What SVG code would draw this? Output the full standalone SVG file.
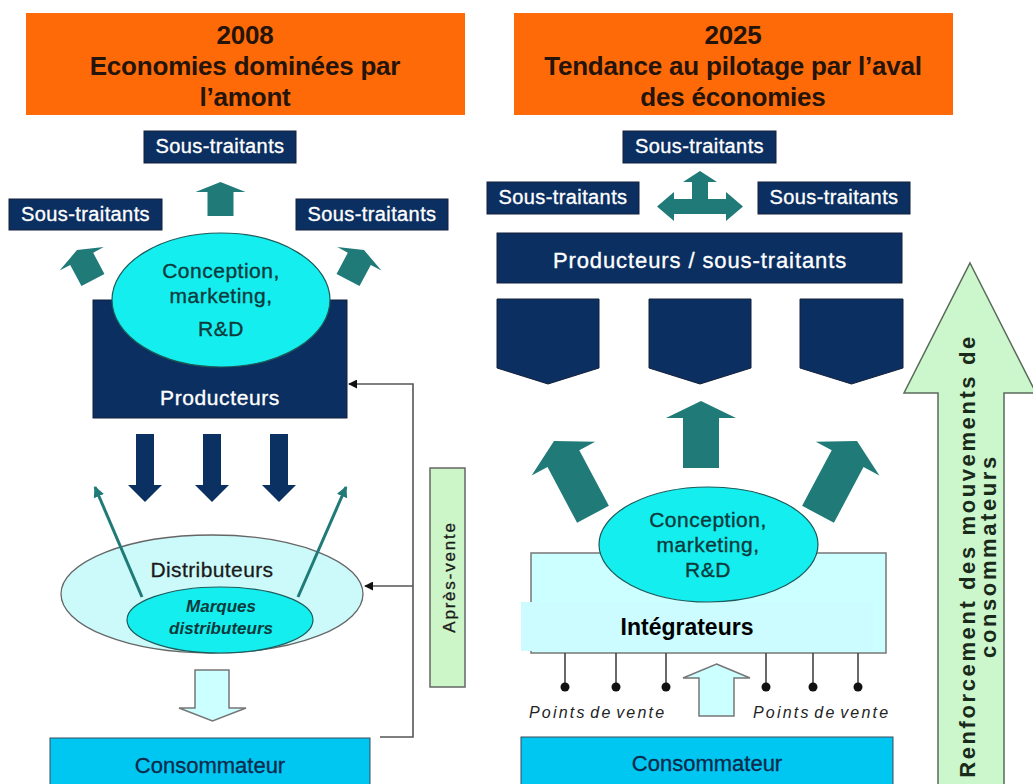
<svg xmlns="http://www.w3.org/2000/svg" width="1033" height="784" viewBox="0 0 1033 784">
<style>
text{font-family:"Liberation Sans",Arial,sans-serif}
.hdr{fill:#ff6a08}
.hdrt{font-size:26px;font-weight:bold;fill:#24140a;text-anchor:middle;letter-spacing:-0.2px}
.navy{fill:#0b2f60;stroke:#15203a;stroke-width:1}
.wt{fill:#ffffff;text-anchor:middle;stroke:#ffffff;stroke-width:0.35px}
.st{font-size:20px;letter-spacing:0.4px}
.teal{fill:#1f7a78}
.cyan{fill:#14eeee;stroke:#1d5a5a;stroke-width:1.2}
.ct{font-size:21px;fill:#0c3a3c;stroke:#0c3a3c;stroke-width:0.35px;text-anchor:middle;letter-spacing:0.5px}
.lc{fill:#ccffff;stroke:#777;stroke-width:1.5}
.cons{fill:#00c6f2;stroke:#3a4a5a;stroke-width:1}
.consT{font-size:22px;fill:#0c2a4c;stroke:#0c2a4c;stroke-width:0.3px;text-anchor:middle}
.fb{fill:none;stroke:#555;stroke-width:1.6}
.pv{stroke:#444;stroke-width:1.6}
.pvt{font-size:16px;font-style:italic;fill:#222;letter-spacing:2.2px;word-spacing:-3px}
.green{fill:#ccf6cc;stroke:#5a6a5a;stroke-width:1.5}
.gt{font-size:22px;font-weight:bold;fill:#1a2a1a;text-anchor:middle;letter-spacing:2.6px}
</style>
<defs>
<marker id="mk" viewBox="0 0 10 10" refX="9" refY="5" markerWidth="9" markerHeight="9" markerUnits="userSpaceOnUse" orient="auto"><path d="M0,0 L10,5 L0,10 Z" fill="#111"/></marker>
<marker id="mkt" viewBox="0 0 10 10" refX="9" refY="5" markerWidth="11" markerHeight="11" markerUnits="userSpaceOnUse" orient="auto"><path d="M0,0 L10,5 L0,10 Z" fill="#1f7a78"/></marker>
<path id="downA" d="M-9,0 H9 V51 H17 L0,68 L-17,51 H-9 Z"/>
<path id="upS" d="M0,0 L25,10 H13 V34 H-13 V10 H-25 Z"/>
<path id="upL" d="M0,0 L36,20 H18 V83 H-18 V20 H-36 Z"/>
</defs>

<!-- Left panel -->
<g id="header2008">
<rect class="hdr" x="26" y="13" width="439" height="102"/>
<text class="hdrt" x="245" y="44">2008</text>
<text class="hdrt" x="245" y="75">Economies dominées par</text>
<text class="hdrt" x="245" y="106">l’amont</text>
</g>
<g id="st-top-left">
<rect class="navy" x="144" y="131" width="152" height="32"/>
<text class="wt st" x="220" y="153">Sous-traitants</text>
</g>
<g id="st-left-left">
<rect class="navy" x="9" y="199" width="153" height="31"/>
<text class="wt st" x="85.5" y="221">Sous-traitants</text>
</g>
<g id="st-right-left">
<rect class="navy" x="296" y="199" width="152" height="31"/>
<text class="wt st" x="372" y="221">Sous-traitants</text>
</g>
<g id="producteurs">
<rect class="navy" x="93" y="300" width="254" height="118"/>
<text class="wt" x="220" y="405" font-size="21" letter-spacing="0.6">Producteurs</text>
</g>
<g id="conception-left">
<ellipse class="cyan" cx="221" cy="300" rx="109" ry="67"/>
<text class="ct" x="221" y="278">Conception,</text>
<text class="ct" x="221" y="303">marketing,</text>
<text class="ct" x="221" y="336">R&amp;D</text>
</g>
<g id="distributeurs">
<ellipse cx="212" cy="594" rx="151" ry="59" fill="#ccfafa" stroke="#666" stroke-width="1.3"/>
<text x="212" y="577" font-size="21" fill="#1a1a1a" stroke="#1a1a1a" stroke-width="0.3" text-anchor="middle" letter-spacing="0.4">Distributeurs</text>
</g>
<g id="connectors">
<g class="teal">
<use href="#upS" transform="translate(220.5,182)"/>
<use href="#upS" transform="translate(77,250) rotate(-28)"/>
<use href="#upS" transform="translate(364,250) rotate(28)"/>
</g>
<g fill="#0b3163">
<use href="#downA" transform="translate(145,434)"/>
<use href="#downA" transform="translate(212,434)"/>
<use href="#downA" transform="translate(279,434)"/>
</g>
<line x1="142" y1="597" x2="95" y2="487" stroke="#1f7a78" stroke-width="3" marker-end="url(#mkt)"/>
<line x1="298" y1="597" x2="346" y2="487" stroke="#1f7a78" stroke-width="3" marker-end="url(#mkt)"/>
<path class="lc" d="M195,670 H229 V708 H246 L212.5,721 L179,708 H195 Z"/>
<path class="fb" d="M380,737 H413 V384 H349" marker-end="url(#mk)"/>
<path class="fb" d="M413,586 H365" marker-end="url(#mk)"/>
<path class="teal" d="M700,171 L717,182 H708 V199 H726 V192 L743,206.5 L726,221 V214 H674 V221 L657,206.5 L674,192 V199 H692 V182 H683 Z"/>
<g class="teal">
<path d="M0,0 L35,17 H18 V67 H-18 V17 H-35 Z" transform="translate(701,401)"/>
<use href="#upL" transform="translate(554,441) rotate(-28)"/>
<use href="#upL" transform="translate(857,441) rotate(28)"/>
</g>
<path class="lc" d="M716.5,664 L750,678 H734 V716 H699 V678 H683 Z"/>
</g>
<g id="marques">
<ellipse class="cyan" cx="220" cy="620" rx="93" ry="33"/>
<text x="221" y="612" font-size="17" font-weight="bold" font-style="italic" fill="#0c3a3c" text-anchor="middle">Marques</text>
<text x="221" y="634" font-size="17" font-weight="bold" font-style="italic" fill="#0c3a3c" text-anchor="middle">distributeurs</text>
</g>
<g id="apres-vente">
<rect x="430" y="468" width="35" height="219" fill="#ccf5c8" stroke="#666" stroke-width="1.5"/>
<text transform="translate(455,577) rotate(-90)" font-size="17" fill="#1a1a1a" stroke="#1a1a1a" stroke-width="0.3" text-anchor="middle" letter-spacing="1.8">Après-vente</text>
</g>
<g id="consommateur-left">
<rect class="cons" x="50" y="738" width="320" height="52"/>
<text class="consT" x="210" y="773">Consommateur</text>
</g>

<!-- Right panel -->
<g id="header2025">
<rect class="hdr" x="514" y="13" width="439" height="102"/>
<text class="hdrt" x="733" y="44">2025</text>
<text class="hdrt" x="733" y="75">Tendance au pilotage par l’aval</text>
<text class="hdrt" x="733" y="106">des économies</text>
</g>
<g id="st-top-right">
<rect class="navy" x="623" y="131" width="153" height="32"/>
<text class="wt st" x="699.5" y="153">Sous-traitants</text>
</g>
<g id="st-left-right">
<rect class="navy" x="487" y="182" width="152" height="32"/>
<text class="wt st" x="563" y="204">Sous-traitants</text>
</g>
<g id="st-right-right">
<rect class="navy" x="758" y="182" width="152" height="32"/>
<text class="wt st" x="834" y="204">Sous-traitants</text>
</g>
<g id="producteurs-soustraitants">
<rect class="navy" x="497" y="233" width="405" height="50"/>
<text class="wt" x="700" y="268" font-size="22" letter-spacing="0.9">Producteurs / sous-traitants</text>
</g>
<g id="pentagon-1"><path class="navy" d="M497,299 H599 V368 L548,384 L497,368 Z"/></g>
<g id="pentagon-2"><path class="navy" d="M649,299 H751 V368 L700,384 L649,368 Z"/></g>
<g id="pentagon-3"><path class="navy" d="M800,299 H903 V368 L851.5,384 L800,368 Z"/></g>
<g id="integrateurs">
<rect x="531" y="553" width="355" height="100" fill="#ccffff" stroke="#777" stroke-width="1.5"/>
<rect x="521" y="602" width="352" height="49" fill="#ccfcff"/>
<text x="687" y="635" font-size="23" font-weight="bold" fill="#000" text-anchor="middle">Intégrateurs</text>
</g>
<g id="conception-right">
<ellipse class="cyan" cx="708.5" cy="544.5" rx="109.5" ry="57.5"/>
<text class="ct" x="708" y="527">Conception,</text>
<text class="ct" x="708" y="552">marketing,</text>
<text class="ct" x="708" y="577">R&amp;D</text>
</g>
<g id="points-de-vente">
<line class="pv" x1="565" y1="653" x2="565" y2="687"/>
<line class="pv" x1="616" y1="653" x2="616" y2="687"/>
<line class="pv" x1="666" y1="653" x2="666" y2="687"/>
<line class="pv" x1="766" y1="653" x2="766" y2="687"/>
<line class="pv" x1="813" y1="653" x2="813" y2="687"/>
<line class="pv" x1="858" y1="653" x2="858" y2="687"/>
<g fill="#111">
<circle cx="565" cy="687" r="4.5"/><circle cx="616" cy="687" r="4.5"/><circle cx="666" cy="687" r="4.5"/>
<circle cx="766" cy="687" r="4.5"/><circle cx="813" cy="687" r="4.5"/><circle cx="858" cy="687" r="4.5"/>
</g>
<text class="pvt" x="529" y="718">Points de vente</text>
<text class="pvt" x="753" y="718">Points de vente</text>
</g>
<g id="consommateur-right">
<rect class="cons" x="521" y="737" width="372" height="53"/>
<text class="consT" x="707" y="771">Consommateur</text>
</g>
<g id="renforcement">
<path class="green" d="M970,263 L1036,393 H1004 V792 H938 V393 H904 Z"/>
<text class="gt" transform="translate(975,556) rotate(-90)">Renforcement des mouvements de</text>
<text class="gt" transform="translate(996,556) rotate(-90)">consommateurs</text>
</g>
</svg>
